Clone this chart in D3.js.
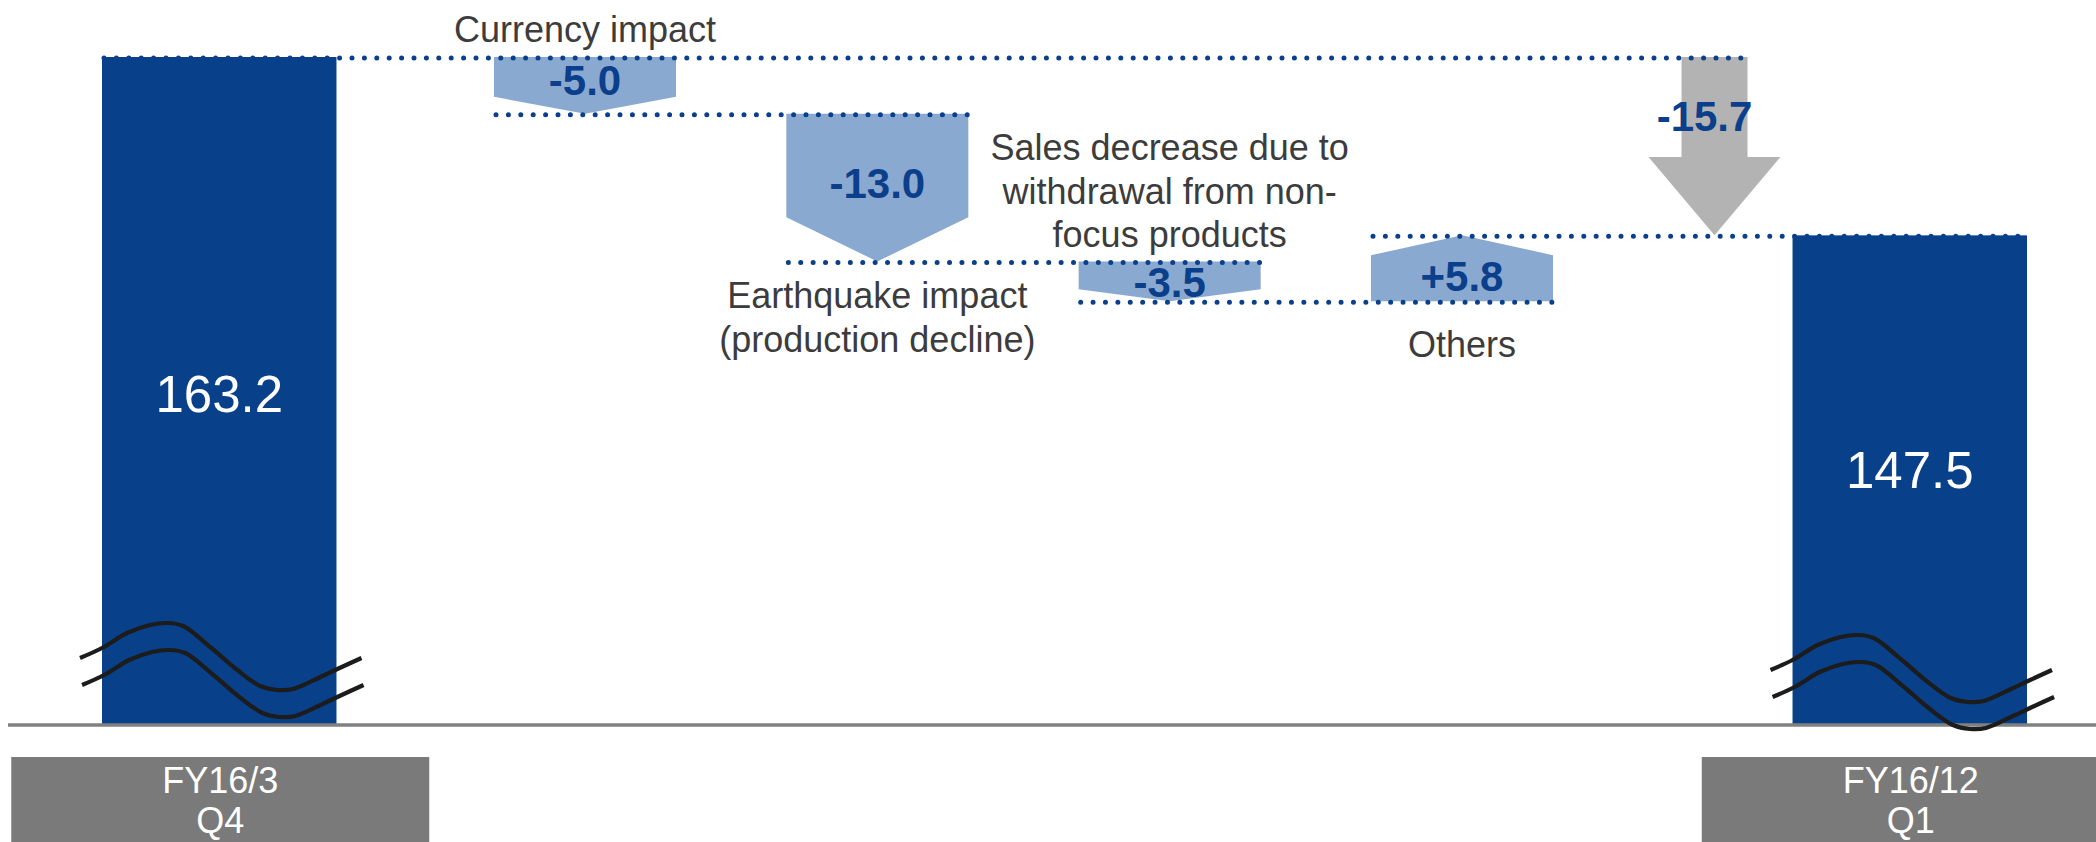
<!DOCTYPE html>
<html>
<head>
<meta charset="utf-8">
<script src="https://cdn.jsdelivr.net/npm/d3@7"></script>
<style>
  html, body { margin: 0; padding: 0; background: #ffffff; }
  svg { display: block; font-family: "Liberation Sans", Arial, Helvetica, sans-serif; }
</style>
</head>
<body>
<svg id="chart" width="2096" height="842"></svg>
<script>
// Period totals at both ends of the sales bridge
const categories = ["FY16/3 Q4", "FY16/12 Q1"];
const endValues = [163.2, 147.5];

// Factors moving sales from one period to the next (label lines, change)
const stepNames = [
  ["Currency impact"],
  ["Earthquake impact", "(production decline)"],
  ["Sales decrease due to", "withdrawal from non-", "focus products"],
  ["Others"]
];
const stepValues = [-5.0, -13.0, -3.5, 5.8];

// ---- layout ----
const W = 2096, H = 842;
const axisY = 725, topY = 57;
const yFloor = 104.4;              // value at the broken base line

const COLORS = {
  bar: "#08418a",
  step: "#8aa9d0",
  total: "#b3b3b3",
  dots: "#0a3f8c",
  value: "#0b3f8b",
  note: "#3c3c3c",
  axis: "#808080",
  box: "#7a7a7a",
  wave: "#1c1c1c"
};

const svg = d3.select("#chart");

const y = d3.scaleLinear()
  .domain([yFloor, d3.max(endValues)])
  .range([axisY, topY]);

const xEnds = d3.scaleBand()
  .domain(categories)
  .range([102, 2027])
  .paddingInner(0.8613)
  .paddingOuter(0);

const xSteps = d3.scaleBand()
  .domain(d3.range(stepValues.length))
  .range([494, 1553])
  .paddingInner(0.3774)
  .paddingOuter(0);

const fmt = v => (v > 0 ? "+" : "") + v.toFixed(1);

// cumulative levels for each step
let level = endValues[0];
const steps = stepValues.map((v, i) => {
  const start = level;
  level = Math.round((level + v) * 10) / 10;
  return { i, v, start, end: level, lines: stepNames[i] };
});

const bw = xEnds.bandwidth();
const sw = xSteps.bandwidth();

// ---- end bars ----
svg.append("g").selectAll("rect")
  .data(categories)
  .join("rect")
  .attr("x", d => xEnds(d))
  .attr("y", (d, i) => y(endValues[i]))
  .attr("width", bw)
  .attr("height", (d, i) => axisY - y(endValues[i]))
  .attr("fill", COLORS.bar);

svg.append("g").selectAll("text")
  .data(categories)
  .join("text")
  .attr("x", d => xEnds(d) + bw / 2)
  .attr("y", (d, i) => axisY - 28 - 0.426 * (axisY - y(endValues[i])))
  .attr("text-anchor", "middle")
  .attr("fill", "#ffffff")
  .attr("font-size", 51)
  .text((d, i) => endValues[i].toFixed(1));

// ---- step arrows ----
const arrowPath = s => {
  const x0 = xSteps(s.i), cx = x0 + sw / 2;
  const yS = y(s.start), yE = y(s.end);
  const tip = 0.3 * (yE - yS);
  return d3.line()([
    [x0, yS], [x0 + sw, yS], [x0 + sw, yE - tip], [cx, yE], [x0, yE - tip]
  ]) + "Z";
};

svg.append("g").selectAll("path")
  .data(steps)
  .join("path")
  .attr("d", arrowPath)
  .attr("fill", COLORS.step);

// ---- total change arrow ----
const totalChange = Math.round((endValues[1] - endValues[0]) * 10) / 10;
const tcx = xEnds(categories[1]) - 78;
const tS = y(endValues[0]), tE = y(endValues[1]);
const headLen = 0.44 * (tE - tS);
svg.append("path")
  .attr("d", d3.line()([
    [tcx - 33, tS], [tcx + 33, tS], [tcx + 33, tE - headLen], [tcx + 66, tE - headLen],
    [tcx, tE], [tcx - 66, tE - headLen], [tcx - 33, tE - headLen]
  ]) + "Z")
  .attr("fill", COLORS.total);

// ---- dotted connectors ----
const connectors = [];
connectors.push({ x1: xEnds(categories[0]), x2: tcx + 33, v: endValues[0] });
for (let i = 1; i < steps.length; i++) {
  connectors.push({ x1: xSteps(i - 1), x2: xSteps(i) + sw, v: steps[i - 1].end });
}
connectors.push({ x1: xSteps(steps.length - 1), x2: xEnds(categories[1]) + bw, v: endValues[1] });

svg.append("g").selectAll("line")
  .data(connectors)
  .join("line")
  .attr("x1", d => d.x1 + 2)
  .attr("x2", d => d.x2)
  .attr("y1", d => y(d.v) + 1)
  .attr("y2", d => y(d.v) + 1)
  .attr("stroke", COLORS.dots)
  .attr("stroke-width", 5)
  .attr("stroke-linecap", "round")
  .attr("stroke-dasharray", "0 12.4");

// ---- value labels on arrows ----
svg.append("g").selectAll("text")
  .data(steps)
  .join("text")
  .attr("x", d => xSteps(d.i) + sw / 2)
  .attr("y", d => {
    const yS = y(d.start), yE = y(d.end);
    const mid = (yS + yE) / 2;
    const topEdge = Math.min(yS, yE);
    const c = Math.max(mid + (yE > yS ? -5 : 8), topEdge + 21);
    return c + 15;
  })
  .attr("text-anchor", "middle")
  .attr("font-weight", "bold")
  .attr("font-size", 42)
  .attr("fill", COLORS.value)
  .text(d => fmt(d.v));

svg.append("text")
  .attr("x", tcx - 10)
  .attr("y", tS + 74)
  .attr("text-anchor", "middle")
  .attr("font-weight", "bold")
  .attr("font-size", 42)
  .attr("fill", COLORS.value)
  .text(fmt(totalChange));

// ---- factor names ----
const lineH = 43.5;
const side = ["above", "below", "above", "below"];
const gap = [15, 47, 14, 56];
const notes = svg.append("g")
  .attr("font-size", 36)
  .attr("fill", COLORS.note)
  .attr("text-anchor", "middle");

steps.forEach(s => {
  const cx = xSteps(s.i) + sw / 2;
  const yS = y(s.start), yE = y(s.end);
  const n = s.lines.length;
  const first = side[s.i] === "above"
    ? Math.min(yS, yE) - gap[s.i] - (n - 1) * lineH
    : Math.max(yS, yE) + gap[s.i];
  notes.append("text")
    .attr("x", cx)
    .attr("y", first)
    .selectAll("tspan")
    .data(s.lines)
    .join("tspan")
    .attr("x", cx)
    .attr("dy", (d, k) => k === 0 ? 0 : lineH)
    .text(d => d);
});

// ---- base line ----
svg.append("line")
  .attr("x1", 8).attr("x2", W)
  .attr("y1", axisY).attr("y2", axisY)
  .attr("stroke", COLORS.axis)
  .attr("stroke-width", 3.6);

// ---- break marks across the end bars ----
const waveShape = [[0, 1], [22, -9], [47, -24], [70, -32], [87, -34], [103, -31], [130, -10],
  [157, 13], [180, 29], [197, 33], [213, 32], [240, 20], [257, 12], [281, 1]];
const waveLine = d3.line().curve(d3.curveCatmullRom.alpha(0.5));
const waveLift = [68, 56];
categories.forEach((c, i) => {
  const x0 = xEnds(c) - 22;
  const k = (bw + 47) / 281;
  const yc = axisY - waveLift[i];
  [0, 27].forEach(off => {
    svg.append("path")
      .attr("d", waveLine(waveShape.map(([dx, dy]) => [x0 + dx * k + off / 13, yc + dy + off])))
      .attr("fill", "none")
      .attr("stroke", COLORS.wave)
      .attr("stroke-width", 4.2);
  });
});

// ---- period boxes ----
const boxes = svg.append("g");
categories.forEach(c => {
  const cx = xEnds(c) + bw / 2;
  boxes.append("rect")
    .attr("x", cx - 208).attr("y", 757)
    .attr("width", 418).attr("height", 100)
    .attr("fill", COLORS.box);
  boxes.append("text")
    .attr("x", cx + 1).attr("y", 793)
    .attr("text-anchor", "middle")
    .attr("font-size", 36)
    .attr("fill", "#ffffff")
    .selectAll("tspan")
    .data(c.split(" "))
    .join("tspan")
    .attr("x", cx + 1)
    .attr("dy", (d, k) => k === 0 ? 0 : 40)
    .text(d => d);
});
</script>
</body>
</html>
